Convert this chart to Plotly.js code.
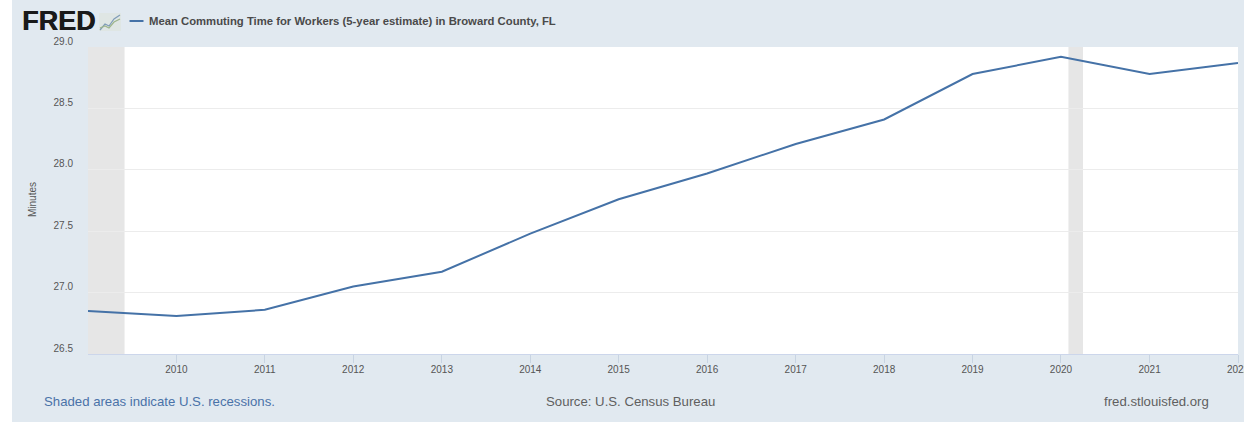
<!DOCTYPE html>
<html>
<head>
<meta charset="utf-8">
<script src="https://cdn.plot.ly/plotly-3.0.1.min.js"></script>
<style>
html,body{margin:0;padding:0;background:#fff;width:1244px;height:422px;overflow:hidden}
#chart{position:absolute;left:12px;top:0;width:1232px;height:422px}
</style>
</head>
<body>
<div id="chart"></div>
<script>
const dates = ["2009-01-01","2010-01-01","2011-01-01","2012-01-01","2013-01-01","2014-01-01","2015-01-01","2016-01-01","2017-01-01","2018-01-01","2019-01-01","2020-01-01","2021-01-01","2022-01-01"];
const minutes = [26.85,26.81,26.86,27.05,27.17,27.48,27.76,27.97,28.21,28.41,28.78,28.92,28.78,28.87];
const recessionStarts = ["2009-01-01","2020-02-01"];
const recessionEnds = ["2009-06-01","2020-04-01"];
const yTicks = [26.5,27.0,27.5,28.0,28.5,29.0];
const yTickLabels = ["26.5","27.0","27.5","28.0","28.5","29.0"];
const xTicks = ["2010-01-01","2011-01-01","2012-01-01","2013-01-01","2014-01-01","2015-01-01","2016-01-01","2017-01-01","2018-01-01","2019-01-01","2020-01-01","2021-01-01","2022-01-01"];
const xTickLabels = ["2010","2011","2012","2013","2014","2015","2016","2017","2018","2019","2020","2021","2022"];
const seriesName = "Mean Commuting Time for Workers (5-year estimate) in Broward County, FL";

const font = "Liberation Sans, Arial, sans-serif";
const W = 1232, H = 422;
const PL = 88, PR = 1238, PT = 47, PB = 354;
const px = x => (x - PL) / (PR - PL);   // page pixels to plot-area fraction
const py = y => (PB - y) / (PB - PT);

const iconSvg = "<svg xmlns='http://www.w3.org/2000/svg' width='22' height='18'>" +
  "<rect width='22' height='18' fill='#dfe6e4'/>" +
  "<path d='M1 17L6 11L10 13L15 6L21 2' fill='none' stroke='#7f9cb8' stroke-width='1.2'/>" +
  "<path d='M1 15L6 13L10 15L15 9L21 6' fill='none' stroke='#9db58c' stroke-width='1.2'/></svg>";

const note = (text, x, y, anchor, size, color, weight, shadow) => ({
  text, xref: "paper", yref: "paper", x: px(x), y: py(y),
  xanchor: anchor, yanchor: "middle", showarrow: false, captureevents: false,
  font: {family: font, size, color, weight: weight || 400, shadow: shadow || "none"}
});

const recessionShapes = recessionStarts.map((s, i) => ({
  type: "rect", layer: "below", xref: "x", yref: "paper",
  x0: s, x1: recessionEnds[i], y0: 0, y1: 1,
  fillcolor: "#e6e6e6", line: {width: 0}
}));

Plotly.newPlot("chart", [{
  x: dates, y: minutes, type: "scatter", mode: "lines", name: seriesName,
  line: {color: "#4572a7", width: 2}, hoverinfo: "x+y"
}], {
  width: W, height: H,
  paper_bgcolor: "#e1e9f0", plot_bgcolor: "#ffffff",
  margin: {l: PL - 12, r: W + 12 - PR, t: PT, b: H - PB, pad: 0, autoexpand: false},
  font: {family: font},
  showlegend: false,
  xaxis: {
    type: "date", range: ["2009-01-01","2022-01-01"],
    tickmode: "array", tickvals: xTicks, ticktext: xTickLabels,
    showgrid: false, zeroline: false, automargin: false,
    ticks: "outside", ticklen: 8, tickwidth: 1, tickcolor: "#c8d4e2",
    showline: true, linecolor: "#ccd6eb", linewidth: 1,
    tickfont: {family: font, size: 10, color: "#555"},
    ticklabeloverflow: "allow", ticklabelstandoff: -2
  },
  yaxis: {
    range: [26.5, 29.0], tickmode: "array", tickvals: yTicks, ticktext: yTickLabels,
    showgrid: true, gridcolor: "#ececec", gridwidth: 1, zeroline: false,
    showline: false, ticks: "", automargin: false,
    ticklabelstandoff: 14, ticklabelshift: -6,
    tickfont: {family: font, size: 10, color: "#555"}
  },
  shapes: recessionShapes.concat([{
    type: "line", layer: "above", xref: "paper", yref: "paper",
    x0: px(129.5), x1: px(143.5), y0: py(21), y1: py(21),
    line: {color: "#4572a7", width: 2}
  }]),
  images: [{
    source: "data:image/svg+xml;utf8," + encodeURIComponent(iconSvg),
    xref: "paper", yref: "paper", x: px(99), y: py(13),
    sizex: 22 / (PR - PL), sizey: 18 / (PB - PT), xanchor: "left", yanchor: "top", layer: "above"
  }],
  annotations: [
    note("FRED", 20, 21, "left", 27, "#1a1a1a", 700, "0.6px 0 0 #1a1a1a"),
    note(seriesName, 147, 21, "left", 11.3, "#4a4a4a", 700),
    Object.assign(note("Minutes", 32, 200, "center", 10, "#555"), {textangle: -90}),
    note("Shaded areas indicate U.S. recessions.", 42, 401, "left", 13.2, "#4a72a8"),
    note("Source: U.S. Census Bureau", 630.5, 401, "center", 13.2, "#5f5f5f"),
    note("fred.stlouisfed.org", 1211, 401, "right", 13.2, "#5f5f5f")
  ]
}, {displayModeBar: false, responsive: false});
</script>
</body>
</html>
